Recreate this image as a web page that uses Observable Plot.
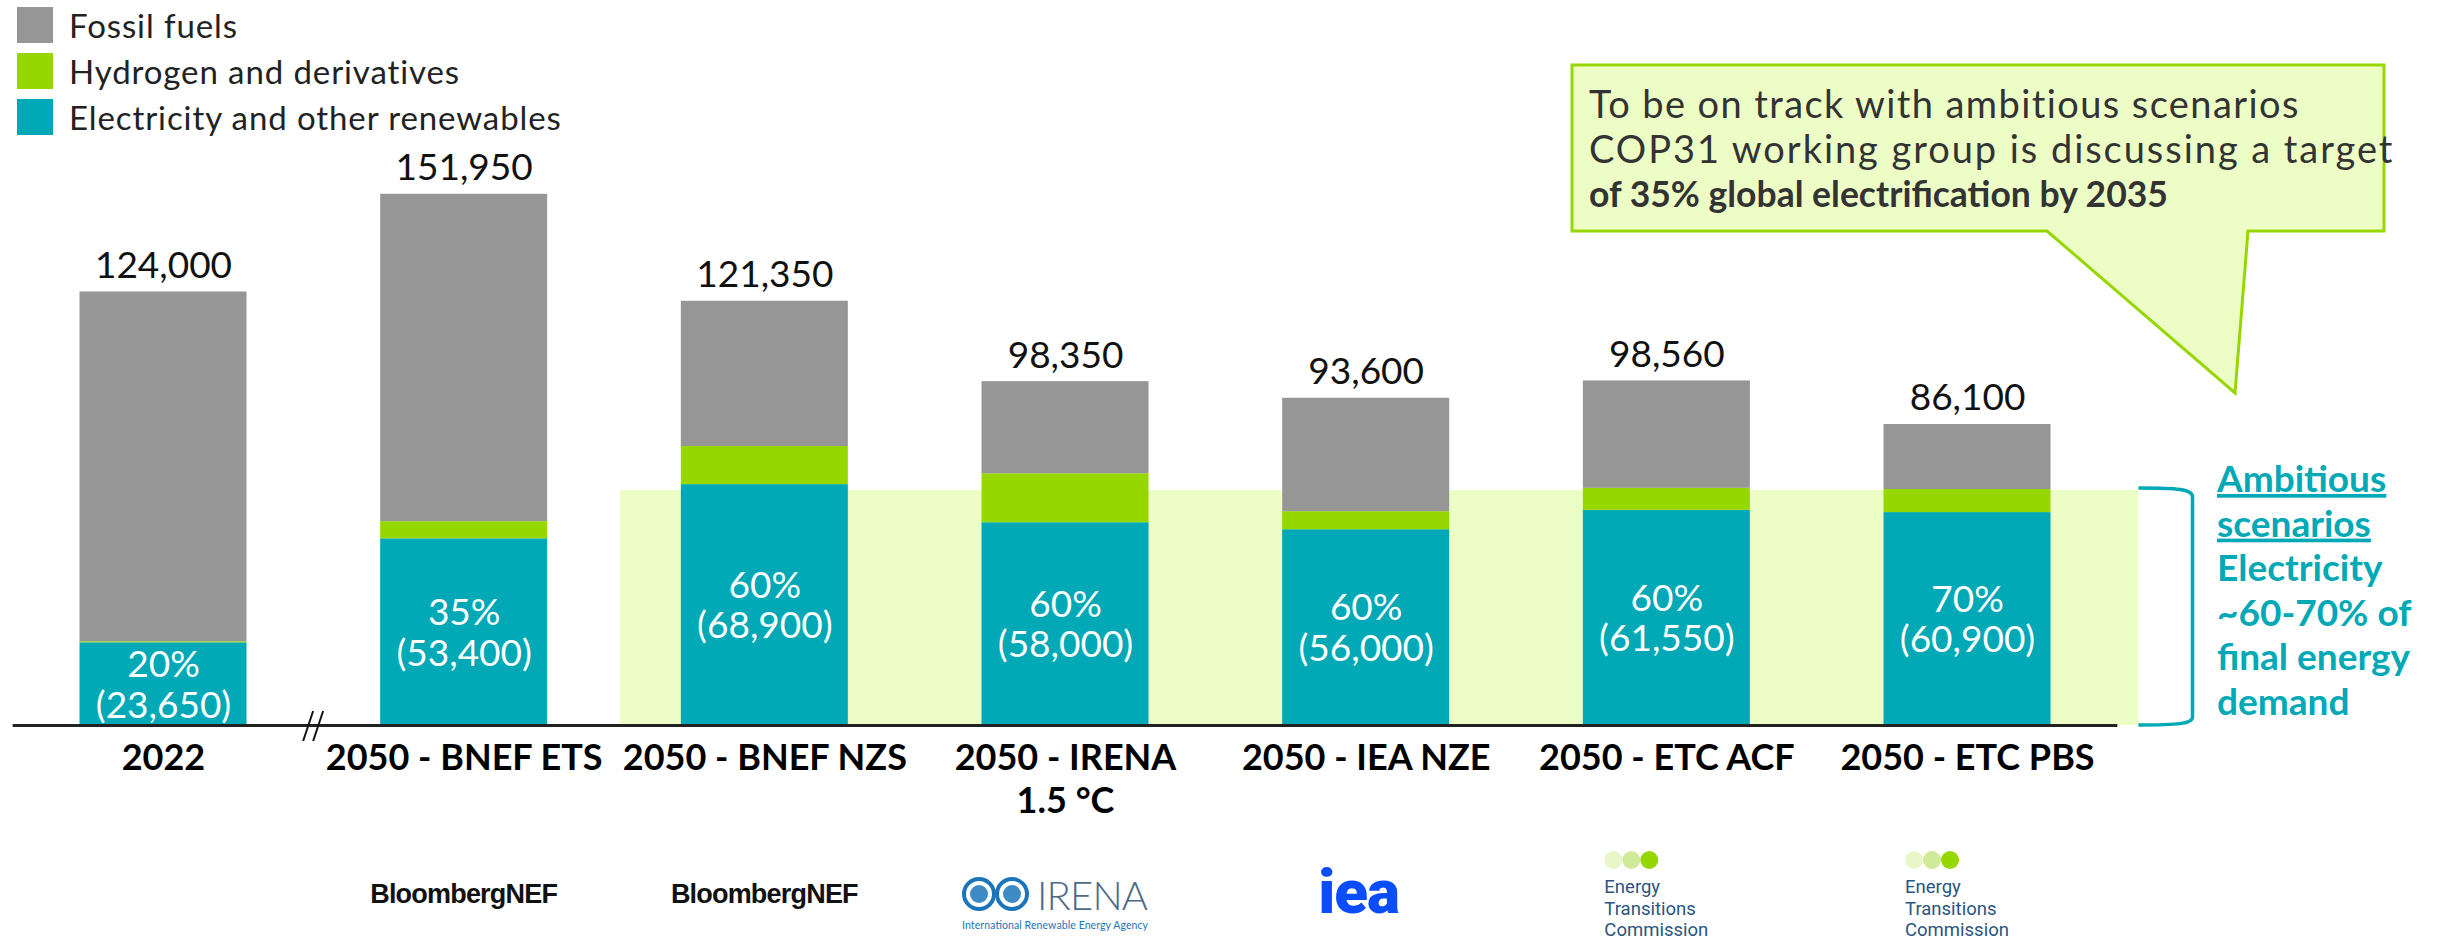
<!DOCTYPE html>
<html><head><meta charset="utf-8">
<script src="https://cdn.jsdelivr.net/npm/d3@7"></script>
<script src="https://cdn.jsdelivr.net/npm/@observablehq/plot@0.6"></script>
<style>
body{margin:0;background:#fff;font-family:Lato,sans-serif;}
#wrap{position:relative;width:2443px;height:941px;overflow:hidden;}
#legend{position:absolute;left:17px;top:7px;width:700px;}
#legend > *{font-size:33px !important;font-family:Lato,sans-serif !important;color:#222;letter-spacing:0.9px;line-height:40px !important;width:700px !important;}
#legend svg{margin-right:16px !important;}
#legend > * > div{height:36px;margin:0 0 10px 0 !important;padding:0 !important;display:flex;align-items:center;overflow:visible !important;}
#legend > * > div > *{overflow:visible !important;text-overflow:clip !important;}
#chart{position:absolute;left:0;top:0;}
</style></head><body><div id="wrap"><div id="chart"></div><div id="legend"></div></div>
<script>
// ---- data ----
const categories = ["2022","2050 - BNEF ETS","2050 - BNEF NZS","2050 - IRENA\n1.5 °C","2050 - IEA NZE","2050 - ETC ACF","2050 - ETC PBS"];
const totals = [124000,151950,121350,98350,93600,98560,86100];
const electricity = [23650,53400,68900,58000,56000,61550,60900];
const hydrogen = [300,4900,10900,14000,5150,6300,6600];
const shareLabels = ["20%","35%","60%","60%","60%","60%","70%"];
const seriesNames = ["Fossil fuels","Hydrogen and derivatives","Electricity and other renewables"];
const seriesColors = ["#969696","#97d700","#00a9b5"];
const sources = ["","BloombergNEF","BloombergNEF","IRENA","iea","ETC","ETC"];
const ambitiousBand = {from:1.52, to:6.57, top:67200};
const calloutLines = ["To be on track with ambitious scenarios","COP31 working group is discussing a target","of 35% global electrification by 2035"];
const sideNote = ["Ambitious","scenarios","Electricity","~60-70% of","final energy","demand"];

const fmt = d3.format(",");
const half = 0.2777;
const segs = [];
categories.forEach((c,i)=>{
  const parts = [
    ["Electricity and other renewables", electricity[i]],
    ["Hydrogen and derivatives", hydrogen[i]],
    ["Fossil fuels", totals[i]-electricity[i]-hydrogen[i]]
  ];
  let acc = 0;
  for (const [s,v] of parts){ segs.push({i, series:s, y1:acc, y2:acc+v}); acc += v; }
});
const idx = categories.map((_,i)=>i);

const W = 2443, H = 941, baseY = 725, pxPerUnit = 0.003496;
const plot = Plot.plot({
  width: W, height: H,
  marginLeft: 0, marginRight: 0, marginTop: 0, marginBottom: H - baseY,
  x: {type:"linear", domain:[-163/300.67, (W-163)/300.67], axis:null},
  y: {domain:[0, baseY/pxPerUnit], axis:null},
  color: {domain: seriesNames, range: seriesColors},
  style: {fontFamily:"Lato, sans-serif", background:"transparent", overflow:"visible"},
  marks: [
    Plot.rect([ambitiousBand], {x1:"from", x2:"to", y1:0, y2:"top", fill:"#edfdc6"}),
    Plot.rect(segs, {x1:d=>d.i-half, x2:d=>d.i+half, y1:"y1", y2:"y2", fill:"series"}),
    Plot.ruleY([0], {x1:-0.5, x2:6.5, stroke:"#222", strokeWidth:3}),
    Plot.text(idx, {x:i=>i, y:i=>totals[i], text:i=>fmt(totals[i]), dy:-14, lineAnchor:"bottom", fontSize:37, fill:"#111"}),
    Plot.text(idx, {x:i=>i, y:i=>electricity[i]/2, text:i=>shareLabels[i]+"\n("+fmt(electricity[i])+")", lineAnchor:"middle", lineHeight:1.1, fontSize:37, fill:"#fff"}),
    Plot.text(idx, {x:i=>i, y:0, text:i=>categories[i], lineAnchor:"top", lineHeight:1.17, dy:15, fontSize:36, fontWeight:"bold", fill:"#000"})
  ]
});
document.getElementById("chart").appendChild(plot);

document.getElementById("legend").appendChild(Plot.legend({
  color:{domain:seriesNames, range:seriesColors}, legend:"swatches", columns:1, swatchSize:36
}));

// ---- annotations ----
const sx = plot.scale("x"), sy = plot.scale("y");
const svg = d3.select(plot);
const X = v => sx.apply(v), Y = v => sy.apply(v);

// axis break
const bx = X(0.496);
svg.append("line").attr("x1",bx-9).attr("y1",baseY+16).attr("x2",bx+1).attr("y2",baseY-14).attr("stroke","#111").attr("stroke-width",2);
svg.append("line").attr("x1",bx+1).attr("y1",baseY+16).attr("x2",bx+11).attr("y2",baseY-14).attr("stroke","#111").attr("stroke-width",2);

// bracket
const bl = X(6.57), br = X(6.75), bt = Y(ambitiousBand.top) - 2;
svg.append("path").attr("d",`M${bl},${bt} C${br-15},${bt} ${br},${bt+1} ${br},${bt+9} L${br},${baseY-8} C${br},${baseY-1} ${br-15},${baseY} ${bl},${baseY}`)
  .attr("fill","none").attr("stroke","#00a9b5").attr("stroke-width",3.5);

// side note
const note = svg.append("text").attr("x", 2217).attr("text-anchor","start").attr("font-family","Lato, sans-serif").attr("font-size",37).attr("font-weight","bold").attr("fill","#00a9b5");
sideNote.forEach((t,k)=>{
  note.append("tspan").attr("x",2217).attr("y",492+k*44.6).attr("text-decoration", k<2 ? "underline" : null).text(t);
});

// callout
const cg = svg.append("g").attr("text-anchor","start");
cg.append("path").attr("d","M1572,65 H2384 V231 H2248 L2235,393 L2047,231 H1572 Z").attr("fill","#edfdc6").attr("stroke","#97d700").attr("stroke-width",3);
const calloutSpacing = [1.4, 1.95, 0];
const calloutSize = [38, 38, 35.5];
calloutLines.forEach((t,k)=>{
  cg.append("text").attr("x",1589).attr("y",118+k*44.5).attr("font-family","Lato, sans-serif").attr("font-size",calloutSize[k])
    .attr("letter-spacing", calloutSpacing[k])
    .attr("font-weight", k===2 ? "bold" : null).attr("fill","#333").text(t);
});

// source logos (text approximations)
sources.forEach((s,i)=>{
  const cx = X(i);
  if (s==="BloombergNEF"){
    svg.append("text").attr("x",cx).attr("y",903).attr("text-anchor","middle").attr("font-family","Liberation Sans, Arial, sans-serif")
      .attr("font-weight","bold").attr("font-size",27).attr("letter-spacing",-0.8).attr("fill","#111").text("BloombergNEF");
  } else if (s==="IRENA"){
    const g = svg.append("g").attr("text-anchor","start");
    [cx-86, cx-53].forEach(c=>{
      g.append("circle").attr("cx",c).attr("cy",894).attr("r",15).attr("fill","none").attr("stroke","#1b75bb").attr("stroke-width",4);
      g.append("circle").attr("cx",c).attr("cy",894).attr("r",9).attr("fill","#1b75bb").attr("opacity",0.85);
    });
    g.append("text").attr("x",cx-28).attr("y",910).attr("font-family","Lato, sans-serif").attr("font-size",40).attr("font-weight",300).attr("fill","#4d6a85").attr("textLength",111).text("IRENA");
    g.append("text").attr("x",cx-103).attr("y",929).attr("font-family","Lato, sans-serif").attr("font-size",10.5).attr("fill","#1b75bb").attr("textLength",186).text("International Renewable Energy Agency");
  } else if (s==="iea"){
    svg.append("text").attr("x",cx-7).attr("y",913).attr("text-anchor","middle").attr("font-family","Roboto, sans-serif").attr("font-weight",900)
      .attr("font-size",62).attr("letter-spacing",-1).attr("fill","#0a4dff").text("iea");
  } else if (s==="ETC"){
    const x0 = cx - 62;
    [["#e8f6c9",9],["#cfea98",27],["#97d700",45]].forEach(([c,o])=>{
      svg.append("circle").attr("cx",x0+o).attr("cy",860).attr("r",9).attr("fill",c);
    });
    ["Energy","Transitions","Commission"].forEach((t,k)=>{
      svg.append("text").attr("x",x0).attr("y",893+k*21.5).attr("text-anchor","start").attr("font-family","Roboto, sans-serif").attr("font-size",18.5).attr("fill","#2a5580").text(t);
    });
  }
});
</script></body></html>
